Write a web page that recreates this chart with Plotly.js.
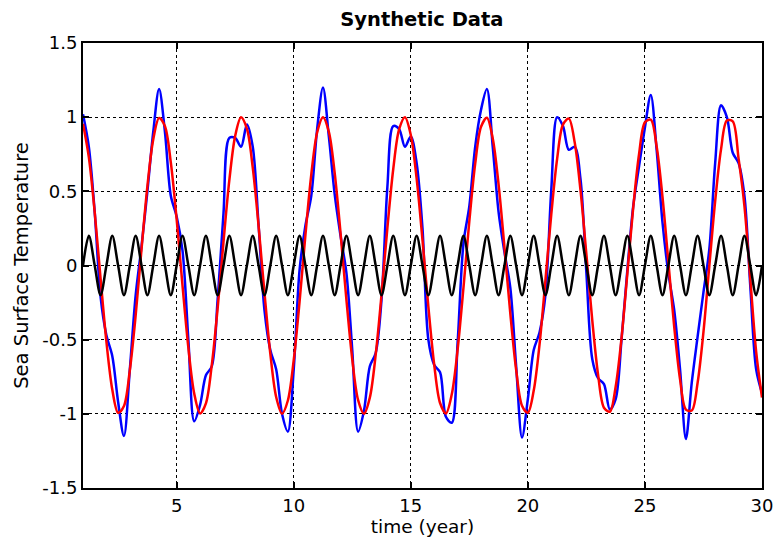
<!DOCTYPE html>
<html>
<head>
<meta charset="utf-8">
<script src="https://cdn.plot.ly/plotly-3.0.1.min.js"></script>
<style>
  html, body { margin: 0; padding: 0; background: #ffffff; }
  #chart { width: 782px; height: 540px; }
</style>
</head>
<body>
<div id="chart"></div>
<script>
// time axis (years), sampled every quarter year
const time = [
  1, 1.25, 1.5, 1.75, 2, 2.25, 2.5, 2.75, 3, 3.25, 3.5, 3.75,
  4, 4.25, 4.5, 4.75, 5, 5.25, 5.5, 5.75, 6, 6.25, 6.5, 6.75,
  7, 7.25, 7.5, 7.75, 8, 8.25, 8.5, 8.75, 9, 9.25, 9.5, 9.75,
  10, 10.25, 10.5, 10.75, 11, 11.25, 11.5, 11.75, 12, 12.25, 12.5, 12.75,
  13, 13.25, 13.5, 13.75, 14, 14.25, 14.5, 14.75, 15, 15.25, 15.5, 15.75,
  16, 16.25, 16.5, 16.75, 17, 17.25, 17.5, 17.75, 18, 18.25, 18.5, 18.75,
  19, 19.25, 19.5, 19.75, 20, 20.25, 20.5, 20.75, 21, 21.25, 21.5, 21.75,
  22, 22.25, 22.5, 22.75, 23, 23.25, 23.5, 23.75, 24, 24.25, 24.5, 24.75,
  25, 25.25, 25.5, 25.75, 26, 26.25, 26.5, 26.75, 27, 27.25, 27.5, 27.75,
  28, 28.25, 28.5, 28.75, 29, 29.25, 29.5, 29.75, 30
];

// blue: observed synthetic series
const observed = [
  1.02, 0.80, 0.36, -0.21,
  -0.47, -0.61, -0.92, -1.15,
  -0.70, -0.20, 0.13, 0.50,
  0.90, 1.19, 0.90, 0.47,
  0.33, 0.10, -0.50, -1.05,
  -0.94, -0.74, -0.68, -0.23,
  0.35, 0.86, 0.86, 0.80,
  0.95, 0.80, 0.27, -0.30,
  -0.57, -0.70, -1.00, -1.12,
  -0.70, -0.03, 0.27, 0.47,
  0.92, 1.20, 0.87, 0.48,
  0.20, -0.05, -0.57, -1.12,
  -0.98, -0.68, -0.59, -0.23,
  0.53, 0.94, 0.92, 0.80,
  0.87, 0.69, 0.25, -0.50,
  -0.67, -0.72, -1.02, -1.06,
  -0.52, 0.15, 0.40, 0.80,
  1.05, 1.19, 0.80, 0.36,
  0.09, -0.15, -0.68, -1.16,
  -0.90, -0.57, -0.45, -0.20,
  0.51, 1.00, 0.94, 0.78,
  0.80, 0.58, -0.05, -0.63,
  -0.76, -0.80, -0.97, -0.90,
  -0.50, -0.03, 0.40, 0.67,
  0.93, 1.15, 0.78, 0.29,
  -0.05, -0.30, -0.70, -1.17,
  -0.79, -0.48, -0.18, 0.11,
  0.69, 1.08, 1.00, 0.76,
  0.69, 0.47, -0.14, -0.70,
  -0.86
];

// red: interannual (~3.5-year) component
const interannual = [
  0.955, 0.729, 0.358, -0.087,
  -0.514, -0.836, -0.993, -0.947,
  -0.706, -0.335, 0.111, 0.534,
  0.850, 0.995, 0.939, 0.695,
  0.311, -0.135, -0.554, -0.863,
  -0.997, -0.929, -0.672, -0.289,
  0.158, 0.575, 0.874, 0.999,
  0.922, 0.660, 0.265, -0.183,
  -0.594, -0.886, -0.999, -0.910,
  -0.638, -0.243, 0.206, 0.613,
  0.897, 1.000, 0.902, 0.623,
  0.219, -0.230, -0.632, -0.908,
  -1.000, -0.891, -0.603, -0.196,
  0.253, 0.649, 0.917, 0.999,
  0.880, 0.585, 0.171, -0.277,
  -0.669, -0.927, -0.997, -0.868,
  -0.567, -0.149, 0.299, 0.685,
  0.935, 0.996, 0.856, 0.545,
  0.123, -0.323, -0.704, -0.945,
  -0.992, -0.843, -0.530, -0.101,
  0.345, 0.719, 0.950, 0.990,
  0.830, 0.504, 0.075, -0.368,
  -0.737, -0.959, -0.986, -0.817,
  -0.490, -0.053, 0.390, 0.752,
  0.965, 0.983, 0.803, 0.462,
  0.027, -0.412, -0.768, -0.971,
  -0.978, -0.790, -0.447, -0.003,
  0.434, 0.783, 0.977, 0.972,
  0.72, 0.40, -0.09, -0.58,
  -0.89
];

// black: annual cycle component
const annual = [
  0, 0.2, 0, -0.2,  0, 0.2, 0, -0.2,  0, 0.2, 0, -0.2,  0, 0.2, 0, -0.2,
  0, 0.2, 0, -0.2,  0, 0.2, 0, -0.2,  0, 0.2, 0, -0.2,  0, 0.2, 0, -0.2,
  0, 0.2, 0, -0.2,  0, 0.2, 0, -0.2,  0, 0.2, 0, -0.2,  0, 0.2, 0, -0.2,
  0, 0.2, 0, -0.2,  0, 0.2, 0, -0.2,  0, 0.2, 0, -0.2,  0, 0.2, 0, -0.2,
  0, 0.2, 0, -0.2,  0, 0.2, 0, -0.2,  0, 0.2, 0, -0.2,  0, 0.2, 0, -0.2,
  0, 0.2, 0, -0.2,  0, 0.2, 0, -0.2,  0, 0.2, 0, -0.2,  0, 0.2, 0, -0.2,
  0, 0.2, 0, -0.2,  0, 0.2, 0, -0.2,  0, 0.2, 0, -0.2,  0, 0.2, 0, -0.2,
  0, 0.2, 0, -0.2,
  0
];

const xTickVals = [5, 10, 15, 20, 25, 30];
const xTickText = ['5', '10', '15', '20', '25', '30'];
const yTickVals = [-1.5, -1, -0.5, 0, 0.5, 1, 1.5];
const yTickText = ['-1.5', '-1', '-0.5', '0', '0.5', '1', '1.5'];

const FONT = 'DejaVu Sans, Verdana, sans-serif';

const traces = [
  { x: time, y: observed, type: 'scatter', mode: 'lines',
    line: { color: '#0000ff', width: 2.5, shape: 'spline', smoothing: 0.9 }, showlegend: false, hoverinfo: 'skip' },
  { x: time, y: interannual, type: 'scatter', mode: 'lines',
    line: { color: '#ff0000', width: 2.5, shape: 'spline', smoothing: 0.9 }, showlegend: false, hoverinfo: 'skip' },
  { x: time, y: annual, type: 'scatter', mode: 'lines',
    line: { color: '#000000', width: 2.5, shape: 'spline', smoothing: 0.9 }, showlegend: false, hoverinfo: 'skip' }
];

const axisCommon = {
  showline: true, linecolor: '#000000', linewidth: 2, mirror: 'ticks',
  ticks: 'inside', ticklen: 6, tickwidth: 2, tickcolor: '#000000',
  showgrid: true, gridcolor: '#000000', gridwidth: 1, griddash: '3px,3px',
  zeroline: false,
  tickfont: { family: FONT, size: 18, color: '#000000' }
};

const layout = {
  width: 782, height: 540,
  paper_bgcolor: '#ffffff', plot_bgcolor: '#ffffff',
  margin: { l: 83, r: 20, t: 43, b: 52 },
  title: { text: '<b>Synthetic Data</b>', x: 0.5395, xanchor: 'center', y: 0.965, yanchor: 'middle',
           font: { family: FONT, size: 19.5, color: '#000000' } },
  xaxis: Object.assign({}, axisCommon, {
    range: [1, 30], tickvals: xTickVals, ticktext: xTickText,
    title: { text: 'time (year)', font: { family: FONT, size: 18.5, color: '#000000' }, standoff: 5 }
  }),
  yaxis: Object.assign({}, axisCommon, {
    range: [-1.5, 1.5], tickvals: yTickVals, ticktext: yTickText,
    title: { text: 'Sea Surface Temperature', font: { family: FONT, size: 19.5, color: '#000000' }, standoff: 8 }
  })
};

Plotly.newPlot('chart', traces, layout, { displayModeBar: false, staticPlot: true });
</script>
</body>
</html>
